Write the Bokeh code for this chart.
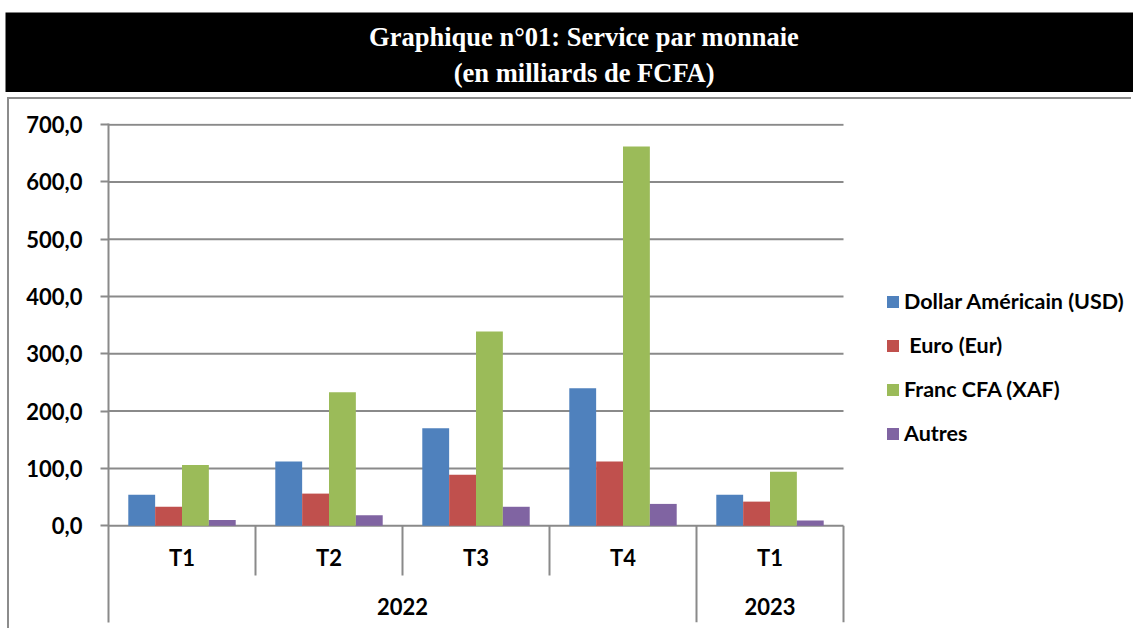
from bokeh.plotting import figure
from bokeh.models import Range1d, FixedTicker, Legend, LegendItem
from bokeh.core.properties import value
from bokeh.embed import file_html
from bokeh.resources import INLINE

# ---- data ----
years = ["2022", "2022", "2022", "2022", "2023"]
quarters = ["T1", "T2", "T3", "T4", "T1"]
series_names = ["Dollar Américain (USD)", " Euro (Eur)", "Franc CFA (XAF)", "Autres"]
usd = [54, 112, 170, 240, 54]
eur = [33, 56, 89, 112, 42]
xaf = [106, 233, 339, 662, 94]
autres = [10, 18, 33, 38, 9]
colors = ["#4F81BD", "#C0504D", "#9BBB59", "#8064A2"]
y_ticks = [0, 100, 200, 300, 400, 500, 600, 700]
title_lines = ["Graphique n°01: Service par monnaie", "(en milliards de FCFA)"]

series = [usd, eur, xaf, autres]
n = len(quarters)
SANS = "Lato"
GRID = "#8a8a8a"

# ---- title band ----
t = figure(width=1128, height=80, x_range=Range1d(0, 1), y_range=Range1d(0, 80),
           output_backend="svg", toolbar_location=None,
           min_border=0, margin=(12, 0, 7, 5))
t.axis.visible = False
t.grid.visible = False
t.outline_line_color = None
t.background_fill_color = "black"
t.border_fill_color = "black"
t.text(x=[0.513, 0.513], y=[56, 20], text=title_lines,
       text_align="center", text_baseline="middle",
       text_font=value("Liberation Serif"), text_font_style="bold",
       text_font_size="26.5px", text_color="white")

# ---- main chart ----
CAT_PX = 147.0
FRAME_W = 1025
x_end = FRAME_W / CAT_PX
p = figure(frame_width=FRAME_W, frame_height=499, x_range=Range1d(0, x_end), y_range=Range1d(-169, 702),
           output_backend="svg", toolbar_location=None,
           min_border_left=99, min_border_right=0, min_border_top=24, min_border_bottom=8,
           margin=(0, 0, 0, 9), styles={"box-shadow": "-2px -2px 0 0 #8c8c8c"})
p.outline_line_color = None
p.background_fill_color = "white"
p.border_fill_color = "white"
p.xaxis.visible = False
p.xgrid.visible = False
p.ygrid.visible = False

ax = p.yaxis[0]
ax.ticker = FixedTicker(ticks=y_ticks)
ax.major_label_overrides = {tk: f"{tk:.1f}".replace(".", ",") for tk in y_ticks}
ax.axis_line_color = GRID
ax.axis_line_width = 2
ax.major_tick_line_color = GRID
ax.major_tick_line_width = 2
ax.major_tick_out = 8
ax.major_tick_in = 0
ax.minor_tick_line_color = None
ax.major_label_standoff = 18
ax.major_label_text_font = SANS
ax.major_label_text_font_style = "bold"
ax.major_label_text_font_size = "22px"
ax.major_label_text_color = "black"

# horizontal gridlines over the category span only
p.segment(x0=[0] * len(y_ticks), y0=y_ticks, x1=[n] * len(y_ticks), y1=y_ticks,
          line_color=GRID, line_width=2)

# bars
bw = 0.1827
items = []
for k, (vals, col, name) in enumerate(zip(series, colors, series_names)):
    xs = [i + 0.5 + (k - 1.5) * bw for i in range(n)]
    r = p.vbar(x=xs, top=vals, bottom=0, width=bw, fill_color=col, line_color=None)
    items.append(LegendItem(label=name, renderers=[r]))

# category separators
x0, y0, x1, y1 = [], [], [], []
for i in range(1, n + 1):
    long_line = (i == n) or (years[i] != years[i - 1])
    x0.append(i); x1.append(i); y0.append(0); y1.append(-169 if long_line else -87)
p.segment(x0=x0, y0=y0, x1=x1, y1=y1, line_color=GRID, line_width=2)

# quarter labels
p.text(x=[i + 0.5 for i in range(n)], y=[-56] * n, text=quarters,
       text_align="center", text_baseline="middle", text_font=value(SANS),
       text_font_style="bold", text_font_size="22px", text_color="black")

# year labels
ylab_x, ylab_t = [], []
start = 0
for i in range(1, n + 1):
    if i == n or years[i] != years[start]:
        ylab_x.append((start + i) / 2)
        ylab_t.append(years[start])
        start = i
p.text(x=ylab_x, y=[-141] * len(ylab_x), text=ylab_t,
       text_align="center", text_baseline="middle", text_font=value(SANS),
       text_font_style="bold", text_font_size="22px", text_color="black")

# legend
legend = Legend(items=items, location=(777, 176), glyph_width=15, glyph_height=15,
                label_standoff=4, spacing=18, label_height=26, padding=0, margin=0,
                label_text_font=SANS, label_text_font_style="bold",
                label_text_font_size="21.5px", label_text_color="black",
                border_line_color=None, background_fill_alpha=0)
p.add_layout(legend, "center")

open("out.html", "w").write(file_html([t, p], INLINE))
